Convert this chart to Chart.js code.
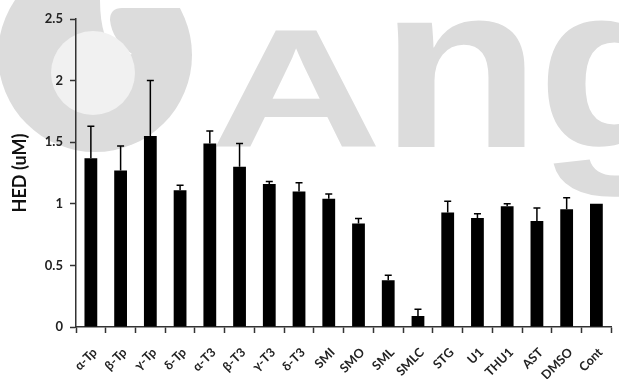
<!DOCTYPE html>
<html>
<head>
<meta charset="utf-8">
<script src="https://cdn.jsdelivr.net/npm/chart.js@4/dist/chart.umd.min.js"></script>
<style>
html,body{margin:0;padding:0;background:#fff;}
#wrap{width:619px;height:379px;position:relative;}
</style>
</head>
<body>
<div id="wrap"><canvas id="c" width="619" height="379"></canvas></div>
<script>
const categories = ['α-Tp','β-Tp','γ-Tp','δ-Tp','α-T3','β-T3','γ-T3','δ-T3','SMI','SMO','SML','SMLC','STG','U1','THU1','AST','DMSO','Cont'];
const values = [1.37,1.27,1.55,1.11,1.49,1.30,1.16,1.10,1.04,0.84,0.38,0.09,0.93,0.885,0.98,0.86,0.955,1.0];
const errors = [0.26,0.20,0.45,0.04,0.10,0.19,0.02,0.07,0.04,0.04,0.04,0.055,0.09,0.035,0.02,0.105,0.095,0];
const yTicks = [0,0.5,1,1.5,2,2.5];
const yTitle = 'HED (uM)';
const watermark = ['A','n','g'];

const yTickFont = {family:'Lato', weight:'bold', size:13};
const xTickFont = {family:'Lato', weight:'bold', size:12.5};

const bgPlugin = {
  id:'bg',
  beforeDraw(chart){
    const ctx = chart.ctx;
    ctx.save();
    ctx.fillStyle='#fff';
    ctx.fillRect(0,0,chart.width,chart.height);
    // logo
    ctx.fillStyle='#dcdcdc';
    ctx.beginPath(); ctx.arc(95,55,97,0,Math.PI*2); ctx.fill();
    ctx.fillStyle='#fff';
    ctx.beginPath(); ctx.moveTo(100,0); ctx.lineTo(200,0); ctx.lineTo(200,8); ctx.lineTo(122,8);
    ctx.quadraticCurveTo(110,8,110,20); ctx.quadraticCurveTo(112,40,132,54); ctx.lineTo(118,58);
    ctx.quadraticCurveTo(100,40,100,0); ctx.closePath(); ctx.fill();
    ctx.fillStyle='#f1f1f1';
    ctx.beginPath(); ctx.arc(93,73,42,0,Math.PI*2); ctx.fill();
    // text
    ctx.fillStyle='#dcdcdc';
    ctx.textBaseline='alphabetic';
    ctx.font='bold 168px "Liberation Sans"';
    ctx.save(); ctx.translate(210,147); ctx.scale(1.42,1); ctx.fillText(watermark[0],0,0); ctx.restore();
    ctx.font='bold 235px "Liberation Sans"';
    ctx.save(); ctx.translate(380,147); ctx.scale(1.12,1); ctx.fillText(watermark[1],0,0); ctx.restore();
    ctx.save(); ctx.translate(537,147); ctx.scale(1.12,1); ctx.fillText(watermark[2],0,0); ctx.restore();
    ctx.restore();
  }
};

const errPlugin = {
  id:'err',
  afterDatasetsDraw(chart){
    const ctx = chart.ctx, y = chart.scales.y, meta = chart.getDatasetMeta(0);
    ctx.save();
    ctx.strokeStyle='#000'; ctx.lineWidth=1.5;
    meta.data.forEach((bar,i)=>{
      if(!errors[i]) return;
      const x = bar.x, y0 = y.getPixelForValue(values[i]), y1 = y.getPixelForValue(values[i]+errors[i]);
      ctx.beginPath();
      ctx.moveTo(x,y0); ctx.lineTo(x,y1);
      ctx.moveTo(x-3.5,y1); ctx.lineTo(x+3.5,y1);
      ctx.stroke();
    });
    ctx.restore();
  }
};

new Chart(document.getElementById('c'),{
  type:'bar',
  data:{labels:categories,datasets:[{data:values,backgroundColor:'#000',borderWidth:0,categoryPercentage:1,barPercentage:0.43}]},
  options:{
    responsive:false,animation:false,
    layout:{padding:{top:19,right:0,left:0,bottom:0}},
    plugins:{legend:{display:false},tooltip:{enabled:false}},
    scales:{
      x:{
        grid:{offset:true,drawOnChartArea:false,drawTicks:true,tickLength:6,tickColor:'#333',tickWidth:1.5},
        border:{color:'#333',width:1.5},
        ticks:{font:xTickFont,color:'#222',maxRotation:45,minRotation:45,autoSkip:false,padding:12,labelOffset:4},
        afterFit(s){s.height=52;}
      },
      y:{
        min:0,max:2.5,
        grid:{drawOnChartArea:false,drawTicks:true,tickLength:6,tickColor:'#333',tickWidth:1.5},
        border:{color:'#333',width:1.5},
        afterBuildTicks(s){s.ticks=yTicks.map(v=>({value:v}));},
        ticks:{font:yTickFont,color:'#222',padding:7,callback:(v)=>String(v)},
        title:{display:true,text:yTitle,font:{family:'Lato',weight:'bold',size:18},color:'#111',padding:{top:9,bottom:0}},
        afterFit(s){s.width=76;}
      }
    }
  },
  plugins:[bgPlugin,errPlugin]
});
</script>
</body>
</html>
